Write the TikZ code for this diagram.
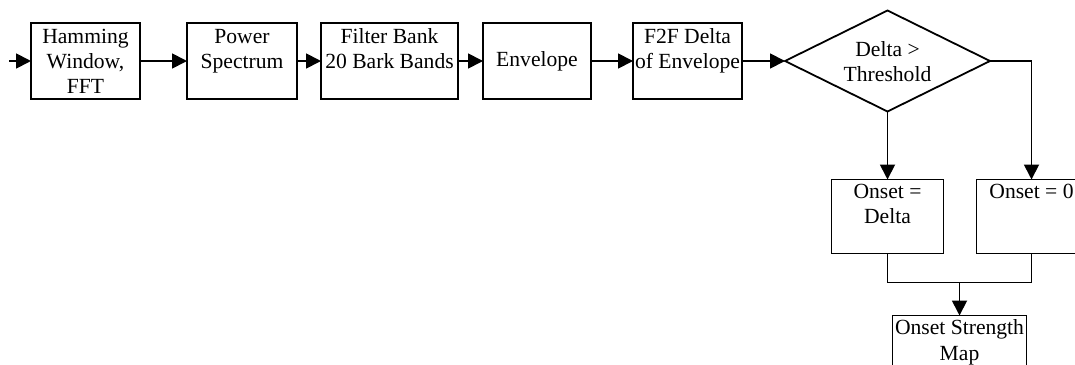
\documentclass[tikz,border=0pt]{standalone}
\usepackage{fontspec}
\setmainfont{Liberation Serif}
\usepackage{tikz}
\usetikzlibrary{arrows.meta,positioning,shapes.geometric,calc}
\newcommand{\blkfont}{\fontsize{10.8}{12.5}\selectfont}

\begin{document}
\begin{tikzpicture}[x=1pt,y=1pt,node distance=12pt,
  every node/.style={font=\blkfont},
  blk/.style={draw,line width=0.9pt,outer sep=0pt,minimum height=38pt,inner sep=1pt,align=center},
  test/.style={draw,line width=0.9pt,outer sep=0pt,shape=diamond,aspect=2,inner sep=0pt,align=center,minimum width=102.5pt,minimum height=50.5pt},
  flow/.style={line width=0.9pt,-{Triangle[length=7.5pt,width=7.5pt]}},
  link/.style={line width=0.9pt}]
\useasboundingbox (0,0) rectangle (537.5,-182);
\node[blk,minimum width=54.5pt] (ham) at (42.75,-30.5) {Hamming\\Window,\\FFT};
\node[blk,right=23.5pt of ham,minimum width=55pt] (pow) {Power\\Spectrum\\~};
\node[blk,right=12pt of pow,minimum width=68.5pt] (fbank) {Filter Bank\\20 Bark Bands\\~};
\node[blk,right=12.5pt of fbank,minimum width=54pt] (env) {Envelope};
\node[blk,right=21pt of env,minimum width=54.5pt] (dlt) {F2F Delta\\of Envelope\\~};
\node[test,right=21.5pt of dlt] (thr) {\\[-4pt]Delta >\\Threshold};
\node[blk,below=34pt of thr,minimum width=56pt,minimum height=37pt] (odelta) {Onset =\\Delta\\~};
\node[blk,right=16.5pt of odelta,minimum width=55pt,minimum height=37pt] (ozero) {Onset = 0\\~\\~};
\coordinate[left=11pt of ham] (in);
\coordinate (join) at ($(odelta.south)!0.5!(ozero.south)+(0,-14.5)$);
\node[blk,below=16.5pt of join,minimum width=67pt,minimum height=37pt] (osm) {Onset Strength\\Map\\~};
\draw[flow] (in) -- (ham);
\draw[flow] (ham) -- (pow);
\draw[flow] (pow) -- (fbank);
\draw[flow] (fbank) -- (env);
\draw[flow] (env) -- (dlt);
\draw[flow] (dlt) -- (thr);
\draw[flow] (thr) -- (odelta);
\draw[flow] (thr.east) -| (ozero.north);
\draw[link] (odelta.south) |- (join) -| (ozero.south);
\draw[flow] (join) -- (osm);
\end{tikzpicture}
\end{document}
